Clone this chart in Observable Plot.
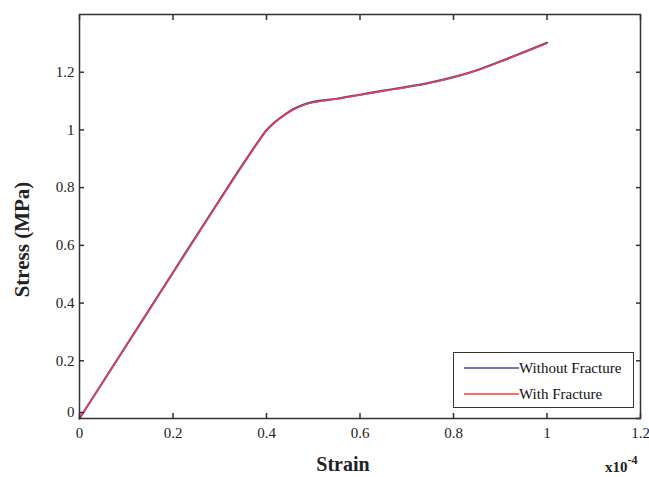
<!DOCTYPE html>
<html>
<head>
<meta charset="utf-8">
<script src="https://cdn.jsdelivr.net/npm/d3@7"></script>
<script src="https://cdn.jsdelivr.net/npm/@observablehq/plot@0.6"></script>
<style>
  body { margin: 0; background: #fff; }
  #wrap { position: relative; width: 649px; height: 477px; font-family: "Liberation Serif", "Times New Roman", serif; }
  #wrap svg text { font-family: "Liberation Serif", "Times New Roman", serif; }
  #legend { position: absolute; left: 453px; top: 352px; width: 181px; height: 56px; border: 1.5px solid #333; background: #fff; box-sizing: border-box; }
  .row { position: absolute; left: 10px; height: 20px; display: flex; align-items: center; font-size: 15px; color: #111; }
  .row svg { display: block; }
  #mult { position: absolute; left: 605px; top: 460px; font-size: 15px; line-height: 15px; font-weight: bold; color: #222; }
  #mult sup { font-size: 12px; position: relative; top: -2px; vertical-align: super; line-height: 0; }
</style>
</head>
<body>
<div id="wrap"></div>
<script>
// Strain (x10^-4) and stress (MPa)
const strain          = [0, 0.10, 0.20, 0.30, 0.35, 0.38, 0.40, 0.42, 0.44, 0.46, 0.48, 0.50, 0.55, 0.60, 0.65, 0.70, 0.75, 0.80, 0.85, 0.90, 0.95, 1.00];
const stressWithout   = [0, 0.253, 0.506, 0.758, 0.882, 0.954, 0.999, 1.030, 1.054, 1.074, 1.088, 1.097, 1.108, 1.122, 1.136, 1.149, 1.164, 1.183, 1.207, 1.237, 1.269, 1.302];
const stressWith      = [0, 0.252, 0.504, 0.756, 0.880, 0.952, 0.997, 1.028, 1.052, 1.072, 1.086, 1.095, 1.107, 1.121, 1.135, 1.148, 1.163, 1.182, 1.206, 1.236, 1.268, 1.300];
const seriesNames     = ["Without Fracture", "With Fracture"];
const seriesColors    = ["#3b4db3", "#ff3c3c"];
const xTicks = [0, 0.2, 0.4, 0.6, 0.8, 1, 1.2];
const yTicks = [0, 0.2, 0.4, 0.6, 0.8, 1, 1.2];

const rows = [];
strain.forEach((s, i) => {
  rows.push({strain: s, stress: stressWithout[i], series: seriesNames[0]});
});
strain.forEach((s, i) => {
  rows.push({strain: s, stress: stressWith[i], series: seriesNames[1]});
});

const ff = '"Liberation Serif", "Times New Roman", serif';
const fmt = d => String(d);

const chart = Plot.plot({
  width: 649,
  height: 477,
  marginLeft: 79,
  marginRight: 9,
  marginTop: 14,
  marginBottom: 59,
  style: {fontFamily: ff, color: "#222", background: "#fff"},
  x: {domain: [0, 1.2]},
  y: {domain: [0, 1.4]},
  marks: [
    Plot.lineY(rows.filter(d => d.series === seriesNames[0]), {x: "strain", y: "stress", stroke: seriesColors[0], strokeWidth: 2.2, curve: "monotone-x"}),
    Plot.lineY(rows.filter(d => d.series === seriesNames[1]), {x: "strain", y: "stress", stroke: seriesColors[1], strokeWidth: 1.4, curve: "monotone-x"}),
    Plot.frame({stroke: "#333", strokeWidth: 1.5}),
    Plot.axisX({ticks: xTicks, anchor: "bottom", tickSize: -5, tickPadding: 14, tickFormat: fmt, fontSize: 15, fontFamily: ff, label: null, stroke: "#333", strokeWidth: 1.5}),
    Plot.axisX({ticks: xTicks, anchor: "top", tickSize: -5, tickFormat: () => "", label: null, stroke: "#333", strokeWidth: 1.5}),
    Plot.axisY({ticks: yTicks.filter(d => d !== 0), anchor: "left", tickSize: -5, tickPadding: 10, tickFormat: fmt, fontSize: 15, fontFamily: ff, label: null, stroke: "#333", strokeWidth: 1.5}),
    Plot.axisY({ticks: [0], anchor: "left", tickSize: -5, tickPadding: 10, tickFormat: fmt, fontSize: 15, fontFamily: ff, label: null, dy: -6, stroke: "#333", strokeWidth: 1.5}),
    Plot.axisY({ticks: yTicks, anchor: "right", tickSize: -5, tickFormat: () => "", label: null, stroke: "#333", strokeWidth: 1.5}),
    Plot.text(["Strain"], {frameAnchor: "bottom", dx: -17, dy: 52, text: d => d, fontSize: 20, fontWeight: "bold", fontFamily: ff, fill: "#222"}),
    Plot.text(["Stress (MPa)"], {frameAnchor: "left", textAnchor: "middle", dx: -57, dy: 23, rotate: -90, text: d => d, fontSize: 21, fontWeight: "bold", fontFamily: ff, fill: "#222"})
  ]
});

const wrap = document.getElementById("wrap");
wrap.appendChild(chart);

const legend = document.createElement("div");
legend.id = "legend";
seriesNames.forEach((name, i) => {
  const row = document.createElement("div");
  row.className = "row";
  row.style.top = (5 + i * 26) + "px";
  row.innerHTML = `<svg width="55" height="6"><line x1="0" y1="3" x2="55" y2="3" stroke="${seriesColors[i]}" stroke-width="1.6"/></svg><span>${name}</span>`;
  legend.appendChild(row);
});
wrap.appendChild(legend);

const mult = document.createElement("div");
mult.id = "mult";
mult.innerHTML = "x10<sup>-4</sup>";
wrap.appendChild(mult);
</script>
</body>
</html>
